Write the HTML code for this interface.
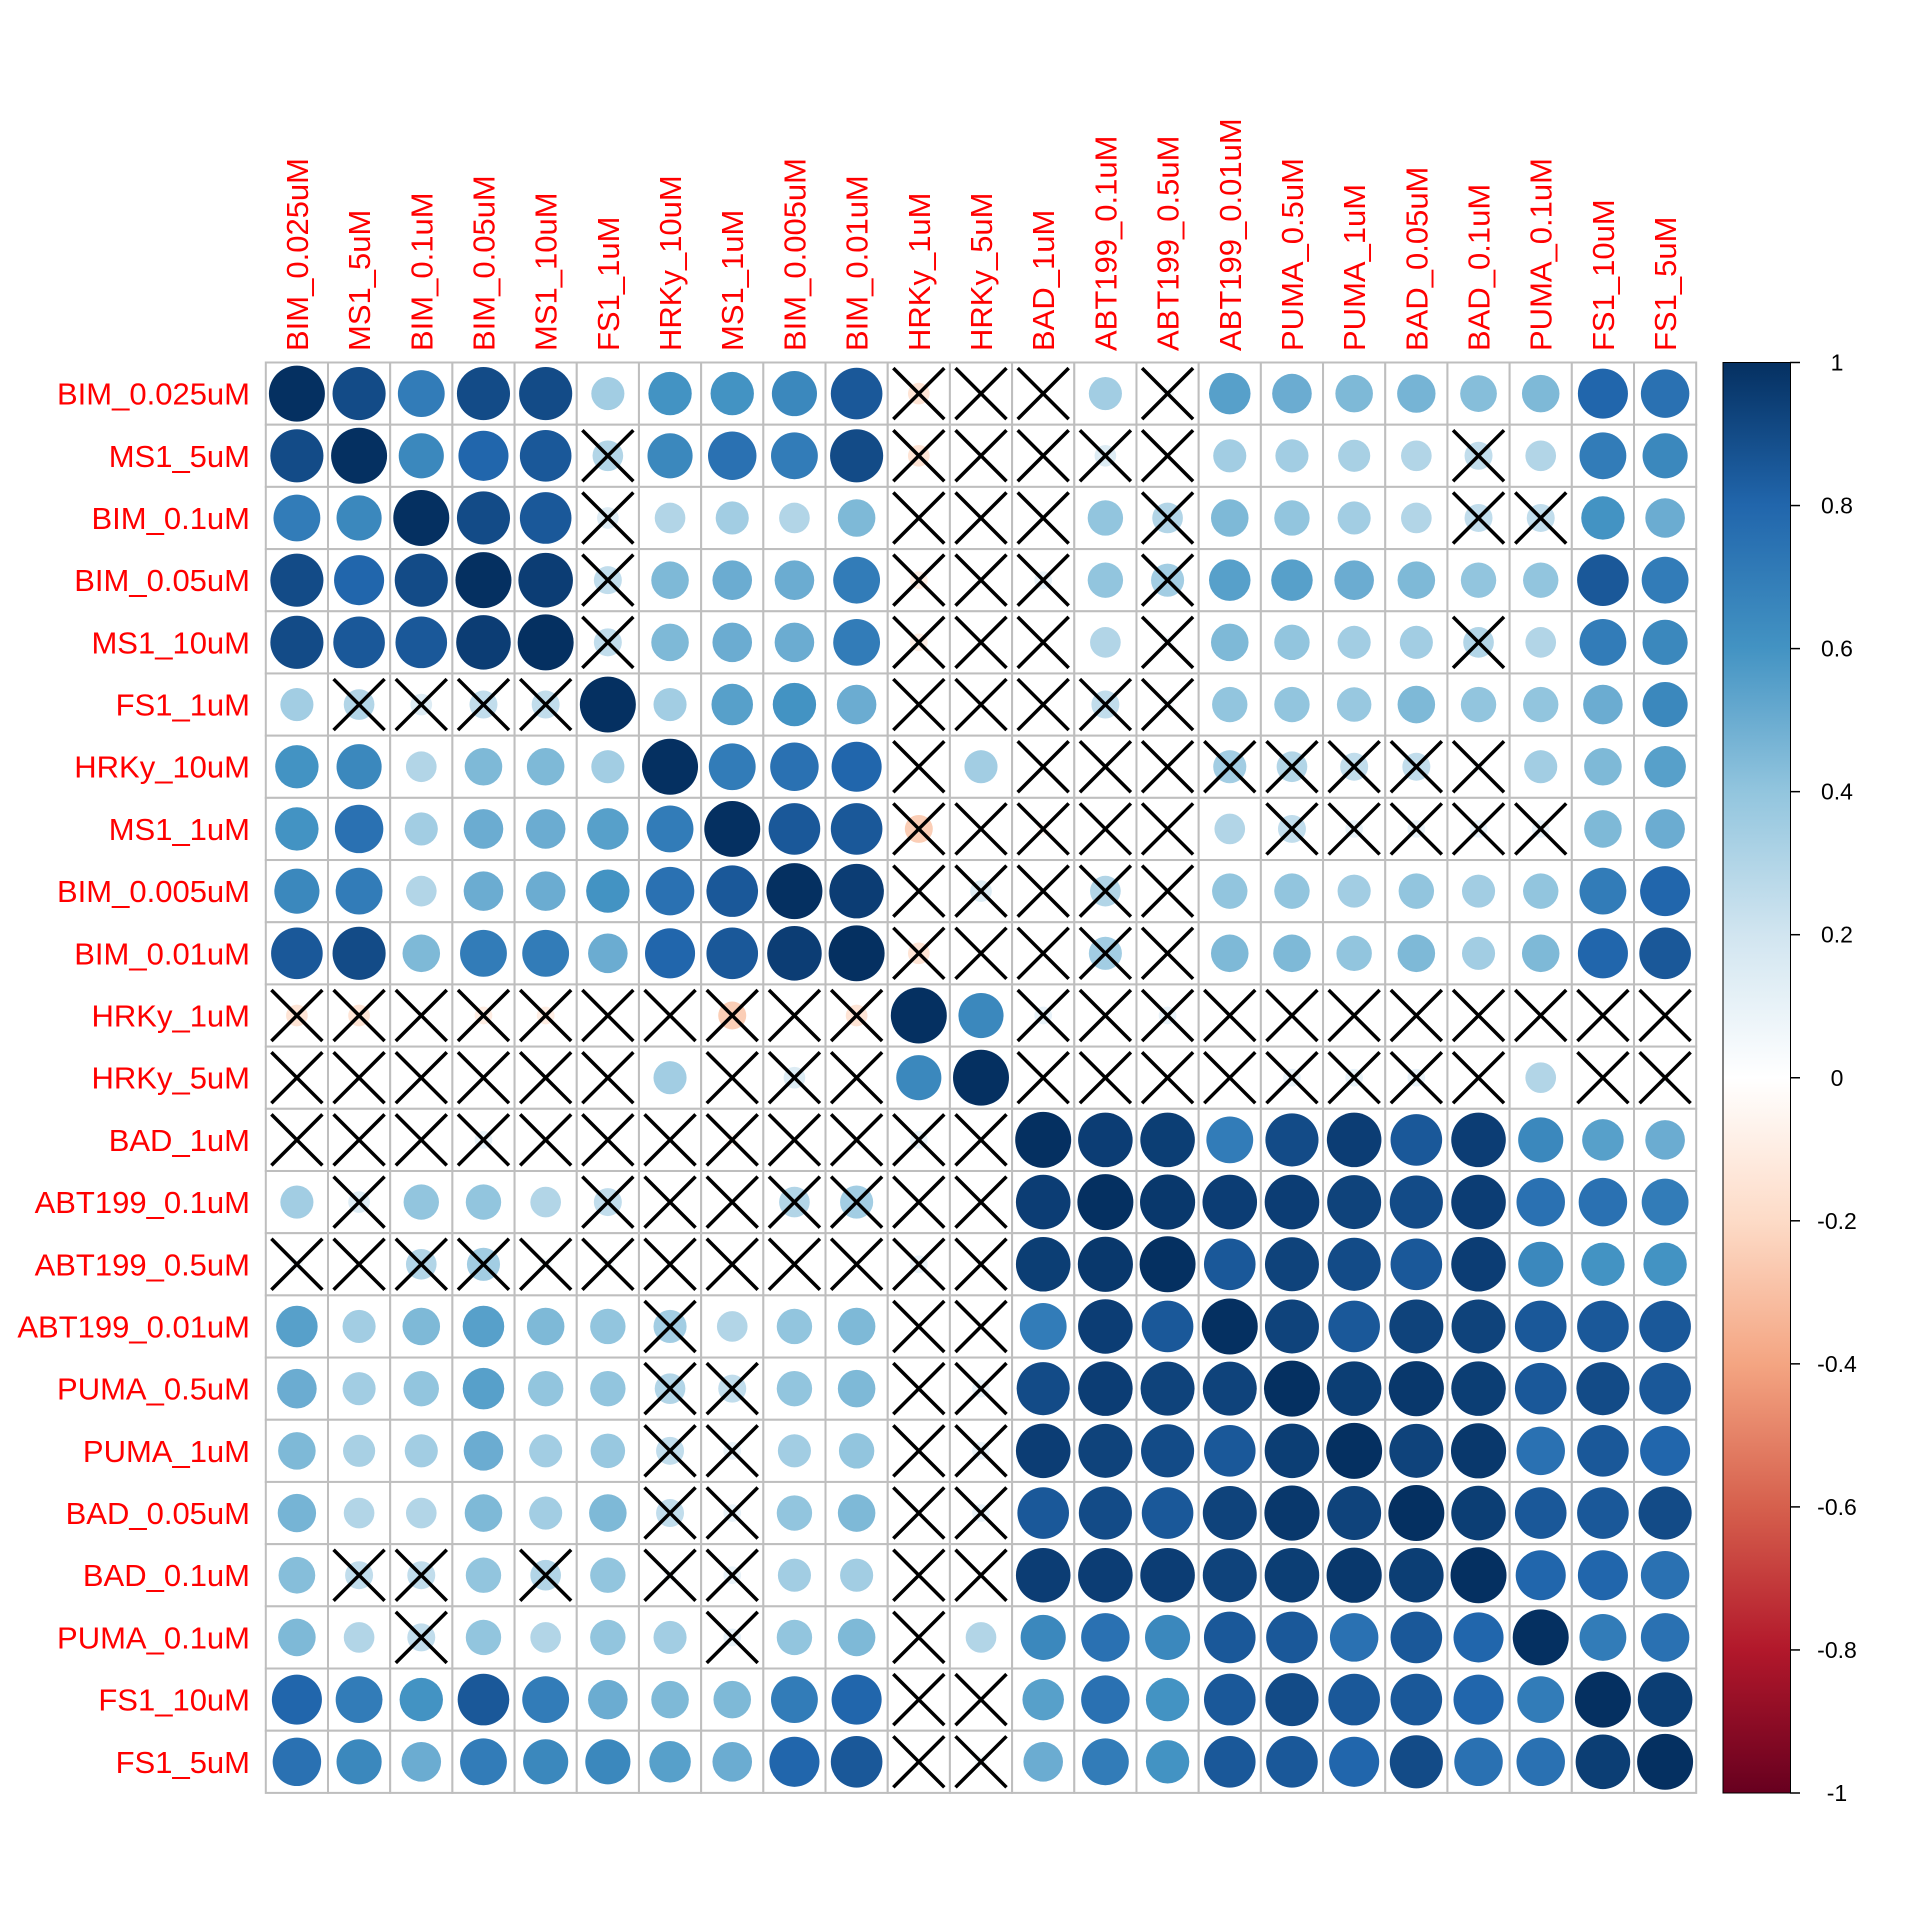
<!DOCTYPE html>
<html><head><meta charset="utf-8"><style>
html,body{margin:0;padding:0;background:#fff;}
svg{display:block;}
.rl{font-family:"Liberation Sans",Arial,sans-serif;font-size:31px;fill:#ff0000;}
.cb{font-family:"Liberation Sans",Arial,sans-serif;font-size:23px;fill:#000;}
</style></head><body>
<svg id="s" xmlns="http://www.w3.org/2000/svg" width="1920" height="1920" viewBox="0 0 1920 1920">
<defs><linearGradient id="g" x1="0" y1="1" x2="0" y2="0">
<stop offset="0" stop-color="#67001F"/><stop offset="0.1" stop-color="#B2182B"/><stop offset="0.2" stop-color="#D6604D"/><stop offset="0.3" stop-color="#F4A582"/><stop offset="0.4" stop-color="#FDDBC7"/><stop offset="0.5" stop-color="#FFFFFF"/><stop offset="0.6" stop-color="#D1E5F0"/><stop offset="0.7" stop-color="#92C5DE"/><stop offset="0.8" stop-color="#4393C3"/><stop offset="0.9" stop-color="#2166AC"/><stop offset="1" stop-color="#053061"/>
</linearGradient></defs>
<g id="cells"></g>
<g id="rows" text-anchor="end"></g>
<g id="cols"></g>
<rect x="1723" y="362.5" width="67.5" height="1430.5" fill="url(#g)" stroke="#000" stroke-width="1"/>
<g id="cbt"></g>
</svg>
<div style="display:none">
BIM_0.025uM MS1_5uM BIM_0.1uM BIM_0.05uM MS1_10uM FS1_1uM HRKy_10uM MS1_1uM BIM_0.005uM BIM_0.01uM HRKy_1uM HRKy_5uM BAD_1uM ABT199_0.1uM ABT199_0.5uM ABT199_0.01uM PUMA_0.5uM PUMA_1uM BAD_0.05uM BAD_0.1uM PUMA_0.1uM FS1_10uM FS1_5uM
</div>
<script>
var names=["BIM_0.025uM","MS1_5uM","BIM_0.1uM","BIM_0.05uM","MS1_10uM","FS1_1uM","HRKy_10uM","MS1_1uM","BIM_0.005uM","BIM_0.01uM","HRKy_1uM","HRKy_5uM","BAD_1uM","ABT199_0.1uM","ABT199_0.5uM","ABT199_0.01uM","PUMA_0.5uM","PUMA_1uM","BAD_0.05uM","BAD_0.1uM","PUMA_0.1uM","FS1_10uM","FS1_5uM"];
var U=[
"1 .85 .65 .85 .85 .3 .55 .55 .6 .8 -.15x 0x 0x .3 .05x .5 .45 .4 .42 .38 .4 .75 .7",
"1 .6 .75 .8 .25x .6 .7 .65 .85 -.15x 0x 0x .15x 0x .3 .3 .28 .25 .2x .25 .65 .6",
"1 .85 .8 .15x .25 .3 .25 .4 0x 0x 0x .35 .25x .4 .35 .3 .25 .2x .2x .55 .45",
"1 .9 .2x .4 .45 .45 .65 -.1x 0x .1x .35 .3x .5 .5 .45 .4 .35 .35 .8 .65",
"1 .2x .4 .45 .45 .65 -.1x 0x 0x .25 .05x .4 .35 .3 .3 .25x .25 .65 .6",
"1 .3 .5 .55 .45 0x 0x 0x .2x .05x .35 .35 .33 .4 .35 .35 .45 .6",
"1 .65 .7 .75 0x .3 0x 0x 0x .3x .25x .2x .2x .05x .3 .4 .5",
"1 .8 .8 -.25x 0x -.05x 0x 0x .25 .2x .1x .1x .1x .1x .4 .45",
"1 .9 0x .15x 0x .25x 0x .35 .35 .3 .35 .3 .35 .65 .75",
"1 -.15x 0x 0x .3x 0x .4 .4 .35 .4 .3 .4 .75 .8",
"1 .6 .1x 0x .1x 0x 0x 0x 0x 0x 0x 0x 0x",
"1 0x 0x 0x 0x .1x .1x .1x 0x .25 0x .05x",
"1 .9 .95 .65 .85 .9 .8 .9 .6 .5 .45",
"1 .97 .9 .9 .88 .85 .9 .7 .7 .65",
"1 .8 .88 .85 .8 .9 .6 .55 .55",
"1 .88 .8 .88 .88 .8 .8 .8",
"1 .95 .92 .95 .8 .85 .8",
"1 .88 .93 .7 .8 .75",
"1 .95 .8 .8 .85",
"1 .75 .75 .7",
"1 .65 .7",
"1 .95",
"1"];
var n=23,M=[],X=[];
for(var i=0;i<n;i++){M.push([]);X.push([]);}
for(var i=0;i<n;i++){var p=U[i].split(" ");for(var k=0;k<p.length;k++){var j=i+k,s=p[k],x=s.indexOf("x")>=0,v=parseFloat(s.replace("x",""));
if(v>0.15&&v<0.95)v=Math.min(0.97,v+0.05);
M[i][j]=M[j][i]=v;X[i][j]=X[j][i]=x;}}
var cols=[[-1,[103,0,31]],[-.8,[178,24,43]],[-.6,[214,96,77]],[-.4,[244,165,130]],[-.2,[253,219,199]],[0,[255,255,255]],[.2,[209,229,240]],[.4,[146,197,222]],[.6,[67,147,195]],[.8,[33,102,172]],[1,[5,48,97]]];
function col(v){for(var k=0;k<10;k++){var a=cols[k],b=cols[k+1];if(v<=b[0]){var t=(v-a[0])/(b[0]-a[0]);return "rgb("+a[1].map(function(q,ii){return Math.round(q+(b[1][ii]-q)*t)}).join(",")+")";}}return "rgb(5,48,97)";}
var L=265.8,T=362.5,c=(1696.2-265.8)/23,h="";
for(var i=0;i<n;i++)for(var j=0;j<n;j++){var x0=L+j*c,y0=T+i*c,cx=x0+c/2,cy=y0+c/2,v=M[i][j];
h+='<rect x="'+x0+'" y="'+y0+'" width="'+c+'" height="'+c+'" fill="#fff" stroke="#bebebe" stroke-width="2"/>';
var r=0.45*c*Math.sqrt(Math.abs(v));if(r>0.5)h+='<circle cx="'+cx+'" cy="'+cy+'" r="'+r+'" fill="'+col(v)+'"/>';
if(X[i][j]){var d=c*0.41;h+='<path d="M'+(cx-d)+' '+(cy-d)+'L'+(cx+d)+' '+(cy+d)+'M'+(cx-d)+' '+(cy+d)+'L'+(cx+d)+' '+(cy-d)+'" stroke="#000" stroke-width="3.5"/>';}}
document.getElementById("cells").innerHTML=h;
var rr="";for(var i=0;i<n;i++){rr+='<text class="rl" x="250" y="'+(T+(i+0.5)*c+11)+'">'+names[i]+'</text>';}
document.getElementById("rows").innerHTML=rr;
var g="";for(var j=0;j<n;j++){var x=L+(j+0.5)*c+11;g+='<text class="rl" transform="translate('+x+',351) rotate(-90)">'+names[j]+'</text>';}
document.getElementById("cols").innerHTML=g;
var t="";for(var k=0;k<=10;k++){var v=1-k*0.2,y=362.5+k*143.05;var lab=Math.abs(v)<1e-9?"0":(Math.round(v*10)/10).toString();
t+='<line x1="1790" y1="'+y+'" x2="1800" y2="'+y+'" stroke="#000" stroke-width="1.5"/><text class="cb" x="1837" y="'+(y+8)+'" text-anchor="middle">'+lab+'</text>';}
document.getElementById("cbt").innerHTML=t;
</script>
</body></html>
